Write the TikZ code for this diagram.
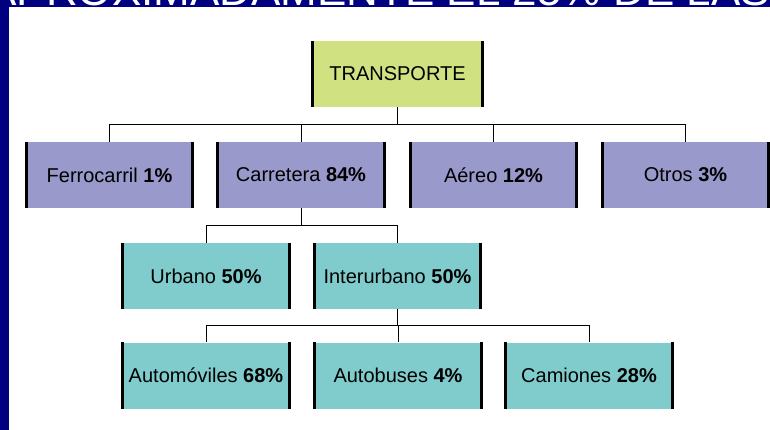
\documentclass[tikz,border=0pt]{standalone}
\usepackage{fontspec}
\setmainfont{Liberation Sans}
\usetikzlibrary{calc}
\definecolor{navyband}{RGB}{0,0,128}
\definecolor{limefill}{RGB}{208,225,130}
\definecolor{lavfill}{RGB}{153,153,204}
\definecolor{tealfill}{RGB}{128,204,204}
\tikzset{
  sidebar/.style={draw=black,line width=2.7pt},
  boxbase/.style={minimum width=166pt,minimum height=66pt,inner sep=0pt,
    font=\fontsize{20}{23}\selectfont,
    append after command={(\tikzlastnode.north west) edge[sidebar] (\tikzlastnode.south west)
      (\tikzlastnode.north east) edge[sidebar] (\tikzlastnode.south east)}},
  topbox/.style={boxbase,fill=limefill,minimum width=169pt},
  midbox/.style={boxbase,fill=lavfill},
  lowbox/.style={boxbase,fill=tealfill},
  tree/.style={draw=black,line width=1pt,
    to path={(\tikztostart) |- ($(\tikztostart)!0.5!(\tikztotarget)$) -| (\tikztotarget)}}
}
\begin{document}
\begin{tikzpicture}[x=1pt,y=-1pt]
\useasboundingbox (0,0) rectangle (770,430);
\fill[white] (0,0) rectangle (770,430);
\fill[navyband] (0,0) rectangle (770,7.5);
\fill[navyband] (0,0) rectangle (8.5,430);
\begin{scope}
\clip (0,0) rectangle (770,7.5);
\node[anchor=base east,text=white,inner sep=0pt,font=\fontsize{44}{48}\selectfont] (title) at (770,6) {APROXIMADAMENTE EL 25\% DE LAS};
\end{scope}

\node[topbox] (T) at (397.5,74) {TRANSPORTE};

\node[midbox] (F) at (109.5,175) {Ferrocarril \textbf{1\%}};
\node[midbox] (C) at (301,175) {Carretera \textbf{84\%}};
\node[midbox] (A) at (493.5,175) {Aéreo \textbf{12\%}};
\node[midbox] (O) at (685.5,175) {Otros \textbf{3\%}};

\node[lowbox] (U) at (206,276) {Urbano \textbf{50\%}};
\node[lowbox] (I) at (397.5,276) {Interurbano \textbf{50\%}};

\node[lowbox] (Au) at (206,375.5) {Automóviles \textbf{68\%}};
\node[lowbox] (B) at (398,375.5) {Autobuses \textbf{4\%}};
\node[lowbox] (Ca) at (589,375.5) {Camiones \textbf{28\%}};

\foreach \c in {F,C,A,O} \draw[tree] (T.south) to (\c.north);
\foreach \c in {U,I} \draw[tree] (C.south) to (\c.north);
\foreach \c in {Au,B,Ca} \draw[tree] (I.south) to (\c.north);
\end{tikzpicture}
\end{document}
